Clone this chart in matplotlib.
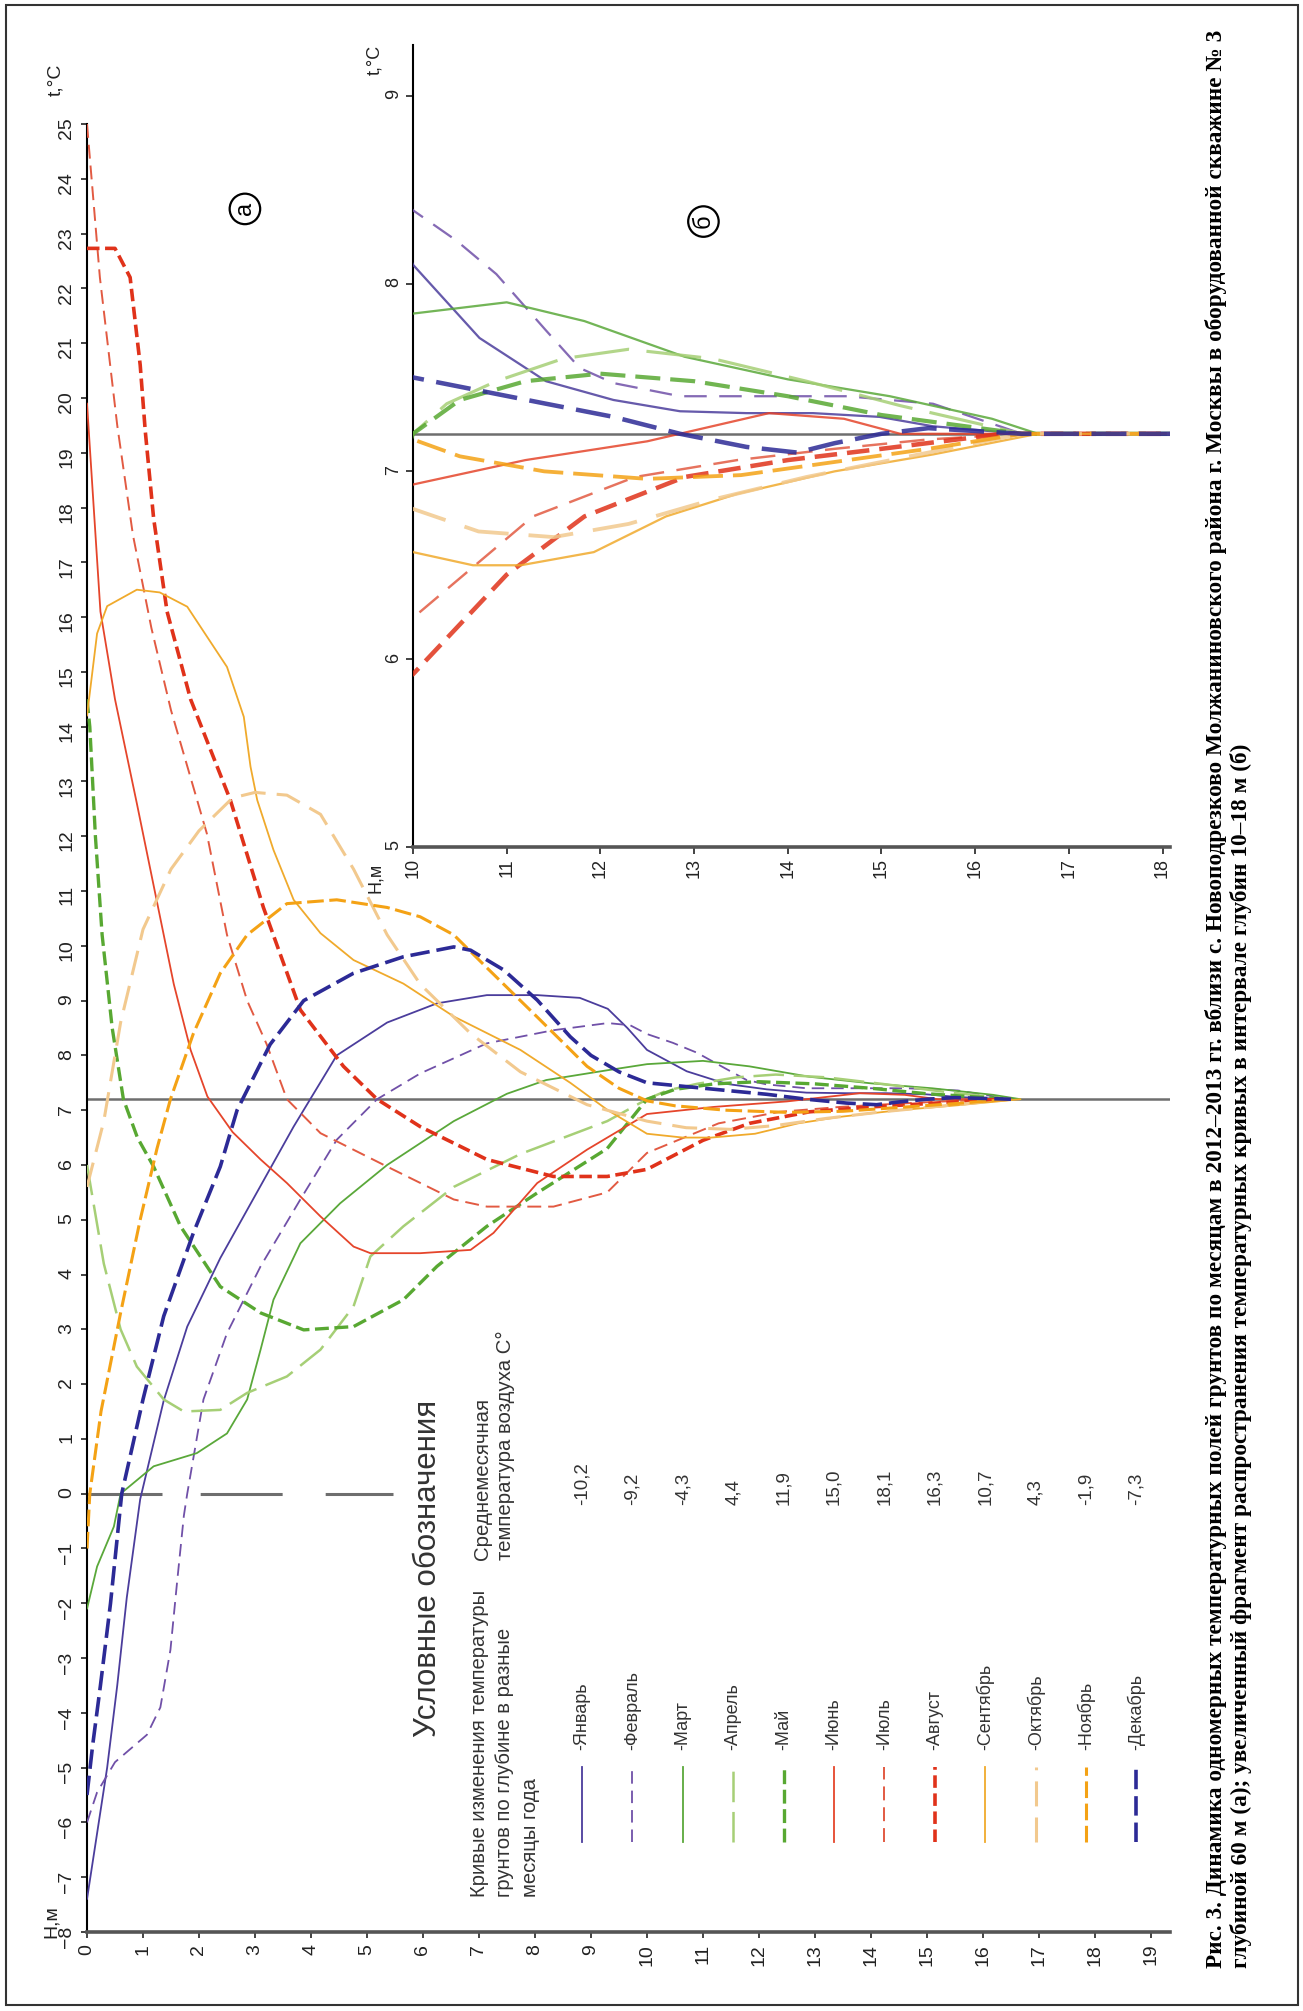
import matplotlib
matplotlib.use('Agg')
import numpy as np
import matplotlib.pyplot as plt
from matplotlib.lines import Line2D
from matplotlib.patches import Rectangle

plt.rcParams['font.family'] = ['Liberation Sans', 'DejaVu Sans']
plt.rcParams['lines.scale_dashes'] = False

# ---- данные: глубина (м) и температура (°C) по месяцам ----
months = ['Январь', 'Февраль', 'Март', 'Апрель', 'Май', 'Июнь',
          'Июль', 'Август', 'Сентябрь', 'Октябрь', 'Ноябрь', 'Декабрь']
air_temp = ['-10,2', '-9,2', '-4,3', '4,4', '11,9', '15,0',
            '18,1', '16,3', '10,7', '4,3', '-1,9', '-7,3']

depth_jan = [0, 0.18, 0.36, 0.54, 0.71, 0.95, 1.37, 1.79, 2.38, 2.98, 3.69, 4.46, 5.36, 6.25, 7.14, 8.04,
             8.8, 9.3, 9.65, 10.0, 10.71, 11.42, 12.14, 12.85, 13.56, 14.27, 14.98, 15.55, 16.5, 18.2]
temp_jan = [-7.4, -6.2, -5.0, -3.5, -1.9, -0.1, 1.7, 3.05, 4.3, 5.4, 6.7, 8.0, 8.6, 8.95, 9.1, 9.1,
            9.05, 8.85, 8.5, 8.1, 7.71, 7.48, 7.38, 7.32, 7.31, 7.31, 7.29, 7.24, 7.2, 7.2]

depth_feb = [0, 0.18, 0.5, 1.07, 1.31, 1.49, 1.61, 1.73, 1.79, 2.08, 2.5, 3.1, 3.81, 4.46, 5.18, 5.95,
             7.14, 8.33, 9.3, 9.7, 10.0, 10.46, 10.89, 11.42, 11.78, 12.14, 12.85, 13.56, 14.63, 15.55, 16.5, 18.2]
temp_feb = [-6.0, -5.45, -4.9, -4.4, -3.9, -2.85, -1.6, -0.4, 0.0, 1.72, 2.93, 4.15, 5.37, 6.46, 7.2, 7.67,
            8.22, 8.46, 8.59, 8.55, 8.39, 8.23, 8.05, 7.75, 7.55, 7.47, 7.40, 7.40, 7.40, 7.36, 7.2, 7.2]

depth_mar = [0, 0.18, 0.48, 0.6, 1.19, 1.96, 2.5, 2.86, 3.1, 3.33, 3.81, 4.52, 5.36, 6.55, 7.5, 8.2,
             9.3, 10.0, 11.0, 11.83, 12.9, 14.0, 15.09, 16.18, 16.67, 18.2]
temp_mar = [-2.1, -1.33, -0.6, 0.0, 0.5, 0.74, 1.1, 1.72, 2.63, 3.54, 4.57, 5.3, 6.0, 6.8, 7.3, 7.55,
            7.73, 7.84, 7.9, 7.8, 7.61, 7.49, 7.40, 7.28, 7.2, 7.2]

depth_apr = [0, 0.3, 0.6, 0.89, 1.37, 1.73, 2.38, 2.86, 3.57, 4.17, 4.76, 5.06, 5.65, 6.55, 7.74, 9.29,
             10.0, 10.36, 10.89, 11.6, 12.3, 13.2, 14.2, 15.2, 16.5, 18.2]
temp_apr = [6.0, 4.2, 3.0, 2.32, 1.72, 1.5, 1.53, 1.84, 2.14, 2.63, 3.42, 4.33, 4.88, 5.6, 6.2, 6.8,
            7.2, 7.36, 7.48, 7.6, 7.65, 7.6, 7.48, 7.35, 7.2, 7.2]

depth_may = [0, 0.05, 0.15, 0.27, 0.45, 0.65, 0.9, 1.19, 1.67, 2.38, 3.1, 3.87, 4.76, 5.65, 6.25, 7.14,
             8.04, 9.29, 10.0, 10.5, 11.2, 12.0, 13.0, 14.0, 15.0, 16.5, 18.2]
temp_may = [14.5, 14.0, 12.0, 10.2, 8.5, 7.2, 6.5, 5.97, 4.88, 3.78, 3.3, 2.99, 3.05, 3.54, 4.15, 4.88,
            5.49, 6.3, 7.2, 7.38, 7.48, 7.52, 7.48, 7.4, 7.3, 7.2, 7.2]

depth_jun = [0, 0.24, 0.5, 0.89, 1.25, 1.55, 1.85, 2.15, 2.6, 3.1, 3.57, 4.17, 4.76, 5.06, 5.95, 6.85,
             7.26, 8.04, 8.93, 10.0, 11.2, 12.5, 13.8, 14.6, 15.2, 16.5, 18.2]
temp_jun = [19.9, 16.1, 14.5, 12.6, 10.8, 9.3, 8.1, 7.25, 6.6, 6.1, 5.67, 5.06, 4.51, 4.39, 4.39, 4.45,
            4.76, 5.67, 6.28, 6.93, 7.06, 7.16, 7.31, 7.28, 7.2, 7.2, 7.2]

depth_jul = [0, 0.23, 0.54, 0.82, 1.15, 1.5, 2.14, 2.5, 2.86, 3.21, 3.57, 4.17, 5.36, 6.55, 7.14, 8.33,
             9.29, 10.0, 11.28, 12.37, 13.46, 14.5, 15.5, 16.5, 18.2]
temp_jul = [25.0, 22.2, 19.5, 17.5, 15.8, 14.3, 12.05, 10.2, 9.0, 8.2, 7.2, 6.58, 5.97, 5.37, 5.24, 5.24,
            5.5, 6.22, 6.76, 6.97, 7.06, 7.12, 7.17, 7.2, 7.2]

depth_aug = [0, 0.5, 0.77, 0.95, 1.04, 1.19, 1.43, 1.85, 2.56, 3.15, 3.81, 4.58, 5.18, 5.95, 7.14, 8.33,
             9.29, 10.0, 11.0, 11.83, 12.9, 14.0, 15.0, 16.3, 18.2]
temp_aug = [22.73, 22.73, 22.2, 20.6, 19.4, 17.8, 16.1, 14.5, 12.66, 10.7, 8.83, 7.8, 7.2, 6.7, 6.1, 5.79,
            5.79, 5.92, 6.45, 6.76, 6.97, 7.06, 7.12, 7.2, 7.2]

depth_sep = [0, 0.18, 0.36, 0.89, 1.3, 1.79, 2.5, 2.8, 2.92, 3.04, 3.33, 3.69, 4.17, 4.76, 5.65, 6.55,
             7.74, 8.63, 9.3, 10.0, 10.64, 11.15, 11.93, 12.7, 13.46, 14.5, 15.55, 16.67, 18.2]
temp_sep = [14.2, 15.7, 16.2, 16.5, 16.45, 16.19, 15.09, 14.18, 13.27, 12.66, 11.75, 10.84, 10.23, 9.74, 9.31, 8.71,
            8.1, 7.5, 7.0, 6.57, 6.5, 6.5, 6.57, 6.76, 6.88, 7.0, 7.09, 7.2, 7.2]

depth_oct = [0, 0.3, 0.6, 1.0, 1.5, 2.0, 2.6, 3.0, 3.57, 4.17, 4.76, 5.36, 5.95, 6.85, 7.74, 8.93,
             10.0, 10.7, 11.5, 12.3, 13.2, 14.2, 15.3, 16.5, 18.2]
temp_oct = [5.6, 6.8, 8.6, 10.3, 11.4, 12.1, 12.7, 12.8, 12.75, 12.4, 11.4, 10.2, 9.3, 8.4, 7.7, 7.1,
            6.8, 6.68, 6.65, 6.72, 6.85, 6.97, 7.08, 7.2, 7.2]

depth_nov = [0, 0.05, 0.25, 0.6, 0.95, 1.25, 1.49, 1.9, 2.38, 2.86, 3.57, 4.46, 5.36, 5.95, 6.55, 7.14,
             8.04, 8.93, 9.5, 10.0, 10.5, 11.4, 12.5, 13.5, 14.5, 15.5, 16.5, 18.2]
temp_nov = [-1.0, 0.0, 1.5, 3.3, 5.0, 6.3, 7.2, 8.4, 9.5, 10.2, 10.77, 10.84, 10.7, 10.53, 10.2, 9.6,
            8.7, 7.8, 7.4, 7.17, 7.08, 7.0, 6.96, 6.98, 7.05, 7.12, 7.2, 7.2]

depth_dec = [0, 0.1, 0.24, 0.42, 0.62, 1.0, 1.37, 1.9, 2.38, 2.68, 3.27, 3.87, 4.76, 5.65, 6.55, 6.85,
             7.44, 8.04, 8.63, 9.0, 9.5, 10.0, 10.71, 11.42, 12.14, 12.85, 13.56, 14.1, 14.5, 15.0, 15.5, 16.5, 18.2]
temp_dec = [-5.5, -4.6, -3.5, -2.0, 0.0, 1.72, 3.24, 4.76, 5.97, 7.0, 8.2, 9.0, 9.5, 9.8, 9.98, 9.92,
            9.56, 9.01, 8.34, 8.0, 7.7, 7.5, 7.43, 7.36, 7.29, 7.2, 7.13, 7.1, 7.15, 7.2, 7.23, 7.2, 7.2]

depths = [depth_jan, depth_feb, depth_mar, depth_apr, depth_may, depth_jun,
          depth_jul, depth_aug, depth_sep, depth_oct, depth_nov, depth_dec]
temps = [temp_jan, temp_feb, temp_mar, temp_apr, temp_may, temp_jun,
         temp_jul, temp_aug, temp_sep, temp_oct, temp_nov, temp_dec]

mean_ground_t = 7.2

# стиль линий: (цвет, штрих, толщина)
colors = ['#4b3d9c', '#7050a8', '#5aa83a', '#a6cf76', '#58a832', '#e5452b',
          '#e25a42', '#e0321a', '#f0aa2c', '#f2c98e', '#f4a215', '#2c2a96']
dashes = ['-', (0, (9, 5)), '-', (0, (22, 7)), (0, (10, 4)), '-',
          (0, (10, 5)), (0, (9, 4)), '-', (0, (18, 8)), (0, (12, 4)), (0, (14, 5))]
widths = [1.3, 1.3, 1.3, 1.8, 2.4, 1.3, 1.4, 2.6, 1.3, 2.2, 2.2, 2.6]

W, H = 1303, 2011
fig = plt.figure(figsize=(W / 100, H / 100), dpi=100)


def fx(x):
    return x / W


def fy(y):
    return 1 - y / H


# рамка
fig.add_artist(Rectangle((fx(6), fy(2005)), fx(1298) - fx(6), fy(5) - fy(2005),
                         transform=fig.transFigure, fill=False, ec='#333333', lw=1.5))

# ---- основной график (а) ----
ax = fig.add_axes([fx(87), fy(1932), (1170 - 87) / W, (1932 - 124) / H])
ax.set_xlim(0, 19.34)
ax.set_ylim(-8, 25)
ax.set_xticks(range(0, 20))
ax.set_yticks(range(-8, 26))
ax.tick_params(direction='out', length=4.5, width=1.2, labelsize=14, labelrotation=90,
               pad=4, colors='#222222')
for s in ['top', 'right']:
    ax.spines[s].set_visible(False)
ax.spines['left'].set_linewidth(1.5)
ax.spines['bottom'].set_linewidth(2.6)
ax.spines['bottom'].set_color('#555555')
ax.patch.set_alpha(0)

ax.axhline(mean_ground_t, color='#6e6e6e', lw=1.8, zorder=1)
ax.hlines(0, 0, 5.46, colors='#6e6e6e', lw=2.2, zorder=1,
          linestyles=[(0, (54, 27.5, 59, 31, 49, 300))])

for d, t, c, ls, lw in zip(depths, temps, colors, dashes, widths):
    d = np.array(d)
    t = np.array(t)
    m = d <= 16.8
    ax.plot(d[m], t[m], color=c, ls=ls, lw=lw, zorder=3, solid_capstyle='round')

ax.text(2.82, 23.45, 'а', rotation=90, ha='center', va='center', fontsize=17,
        bbox=dict(boxstyle='circle,pad=0.18', fc='white', ec='black', lw=1.6))

fig.text(fx(56), fy(80), 't,°C', rotation=90, ha='center', va='center', fontsize=14, color='#222222')
fig.text(fx(51), fy(1922), 'H,м', rotation=90, ha='center', va='center', fontsize=14, color='#222222')

# ---- врезка (б) ----
ax_in = fig.add_axes([fx(413), fy(847), (1170 - 413) / W, (847 - 45) / H])
ax_in.set_xlim(10, 18.08)
ax_in.set_ylim(5, 9.27)
ax_in.set_xticks(range(10, 19))
ax_in.set_yticks(range(5, 10))
ax_in.tick_params(direction='out', length=5, width=1.2, labelsize=13, labelrotation=90,
                  pad=3, colors='#222222')
for s in ['top', 'right']:
    ax_in.spines[s].set_visible(False)
ax_in.spines['left'].set_linewidth(1.5)
ax_in.spines['bottom'].set_linewidth(2.6)
ax_in.spines['bottom'].set_color('#555555')
ax_in.patch.set_alpha(0)

ax_in.axhline(mean_ground_t, color='#6e6e6e', lw=1.8, zorder=1)
for d, t, c, ls, lw in zip(depths, temps, colors, dashes, widths):
    ls_in = ls if ls == '-' else (0, tuple(v * 1.8 for v in ls[1]))
    ax_in.plot(d, t, color=c, ls=ls_in, lw=lw * 1.25, alpha=0.85, zorder=3)

ax_in.text(13.1, 8.33, 'б', rotation=90, ha='center', va='center', fontsize=17,
           bbox=dict(boxstyle='circle,pad=0.18', fc='white', ec='black', lw=1.6))

fig.text(fx(375), fy(60), 't,°C', rotation=90, ha='center', va='center', fontsize=13, color='#222222')
fig.text(fx(375), fy(878), 'H,м', rotation=90, ha='center', va='center', fontsize=13, color='#222222')

renderer = fig.canvas.get_renderer()


def fit(txt, length):
    bb = txt.get_window_extent(renderer)
    txt.set_fontsize(txt.get_fontsize() * length / bb.height)


# ---- условные обозначения ----
title = fig.text(fx(428), fy(1737), 'Условные обозначения', rotation=90, rotation_mode='anchor',
                 ha='left', va='center', fontsize=20, color='#333333')
fit(title, 337)

head1 = fig.text(fx(505), fy(1897), 'Кривые изменения температуры\nгрунтов по глубине в разные\nмесяцы года',
                 rotation=90, rotation_mode='anchor', ha='left', va='center', fontsize=13,
                 linespacing=1.45, color='#333333')
fit(head1, 307)
head2 = fig.text(fx(494), fy(1560), 'Среднемесячная\nтемпература воздуха С°',
                 rotation=90, rotation_mode='anchor', ha='left', va='center', fontsize=13,
                 linespacing=1.3, color='#333333')
fit(head2, 228)

for i, (name, val) in enumerate(zip(months, air_temp)):
    xr = 582 + 50.4 * i
    fig.add_artist(Line2D([fx(xr), fx(xr)], [fy(1842), fy(1767)], transform=fig.transFigure,
                          color=colors[i], ls=dashes[i], lw=widths[i]))
    fig.text(fx(xr), fy(1750), '-' + name, rotation=90, rotation_mode='anchor',
             ha='left', va='center', fontsize=13, color='#333333')
    fig.text(fx(xr), fy(1505), val, rotation=90, rotation_mode='anchor',
             ha='left', va='center', fontsize=13.5, color='#333333')

# ---- подпись ----
cap1 = fig.text(fx(1216), fy(1968),
                'Рис. 3. Динамика одномерных температурных полей грунтов по месяцам в 2012–2013 гг. '
                'вблизи с. Новоподрезково Молжаниновского района г. Москвы в оборудованной скважине № 3',
                rotation=90, rotation_mode='anchor', ha='left', va='center',
                family=['Liberation Serif', 'DejaVu Serif'], fontweight='bold', fontsize=16)
fit(cap1, 1942)
fig.text(fx(1241), fy(1968),
         'глубиной 60 м (а); увеличенный фрагмент распространения температурных кривых '
         'в интервале глубин 10–18 м (б)',
         rotation=90, rotation_mode='anchor', ha='left', va='center',
         family=['Liberation Serif', 'DejaVu Serif'], fontweight='bold', fontsize=cap1.get_fontsize())

fig.savefig('out.png', dpi=100)
